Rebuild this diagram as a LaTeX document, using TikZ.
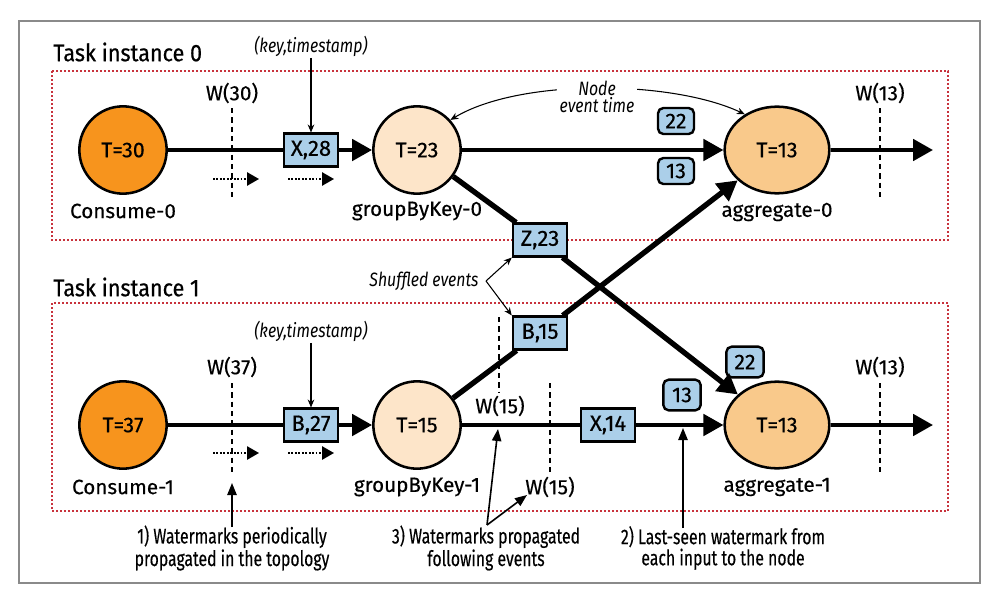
\documentclass[tikz,border=0pt]{standalone}
\usepackage{fontspec}
\setmainfont{Fira Sans}[FakeBold=0.4]
\newfontfamily\condfont{Fira Sans}[FakeStretch=0.74,FakeBold=0.3]
\newfontfamily\titlefont{Fira Sans}[FakeStretch=0.9,FakeBold=0.6]
\newfontfamily\itfont{Fira Sans Italic}[FakeStretch=0.82]
\usetikzlibrary{arrows.meta,shapes.geometric,calc}
\definecolor{orng}{HTML}{F7941D}
\definecolor{peach}{HTML}{FDE5C9}
\definecolor{aggc}{HTML}{F9C98B}
\definecolor{boxb}{HTML}{ABCFE9}
\definecolor{redd}{HTML}{C8323C}
\definecolor{framegray}{HTML}{8A8A8A}
\begin{document}
\begin{tikzpicture}[x=0.75pt,y=-0.75pt,
  consume/.style={circle, draw, line width=1.9pt, fill=orng, minimum size=65.5pt, inner sep=0pt, font=\fontsize{16}{19}\selectfont},
  gbk/.style={consume, fill=peach},
  agg/.style={ellipse, draw, line width=1.9pt, fill=aggc, minimum width=78.5pt, minimum height=65pt, inner sep=0pt, font=\fontsize{16}{19}\selectfont},
  evbox/.style={rectangle, draw, line width=1.8pt, fill=boxb, minimum width=40.5pt, minimum height=24.5pt, inner sep=0pt, font=\fontsize{16.5}{19}\selectfont},
  wmboxa/.style={evbox, rounded corners=4pt, minimum width=27pt, minimum height=19.5pt, font=\fontsize{16}{19}\selectfont},
  wmboxb/.style={evbox, rounded corners=4pt, minimum width=28pt, minimum height=23pt, font=\fontsize{16}{19}\selectfont},
  nodename/.style={font=\fontsize{15.5}{19}\selectfont, inner sep=0pt},
  wlabel/.style={font=\fontsize{15.5}{17}\selectfont, inner sep=0pt},
  itlabel/.style={font=\itfont\fontsize{14.5}{16}\selectfont, inner sep=1pt, align=center},
  title/.style={font=\titlefont\fontsize{18}{22}\selectfont, inner sep=0pt, anchor=west},
  note/.style={font=\condfont\fontsize{16}{14.5}\selectfont, inner sep=0pt, align=center},
  flow/.style={line width=3pt},
  bigarrow/.style={flow, -{Triangle[length=15pt,width=16pt]}},
  diag/.style={line width=4pt},
  diagarrow/.style={diag, -{Triangle[length=15pt,width=16pt]}},
  wmline/.style={line width=0.8pt, dash pattern=on 4pt off 3pt},
  dotarrow/.style={line width=1.3pt, dash pattern=on 1.3pt off 1.3pt, -{Triangle[length=9pt,width=10pt]}},
  thinarrow/.style={line width=0.8pt, -{Stealth[length=6pt,width=5pt]}},
  notearrow/.style={line width=1.2pt, -{Triangle[length=9pt,width=7pt]}},
  region/.style={draw=redd, line width=1pt, dash pattern=on 1.5pt off 1.5pt}
]
\useasboundingbox (0,0) rectangle (992,596);
% frame
\draw[framegray, line width=1.2pt] (19,21) rectangle (980,583);
% regions
\draw[region] (52,71) rectangle (948,240);
\draw[region] (52,303) rectangle (948,511);
\node[title] (t0) at (53,52) {Task instance 0};
\node[title] (t1) at (53,287) {Task instance 1};

% ---- instance 0 nodes
\node[consume] (c0) at (123,150) {T=30};
\node[evbox] (x28) at (311,150) {X,28};
\node[gbk] (g0) at (417,150) {T=23};
\node[agg] (a0) at (777,150) {T=13};
\node[wmboxa] (w22a) at (676,121) {22};
\node[wmboxa] (w13a) at (676,171) {13};
\coordinate (out0) at (933,150);
\node[nodename] (lc0) at (123,211) {Consume-0};
\node[nodename] (lg0) at (417,211) {groupByKey-0};
\node[nodename] (la0) at (777,212) {aggregate-0};
\node[wlabel] (w30) at (232,93) {W(30)};
\node[wlabel] (w13t) at (880,93) {W(13)};
\node[itlabel] (k0) at (311,46) {(key,timestamp)};

% ---- shuffled
\node[evbox] (z23) at (540,240) {Z,23};
\node[evbox] (b15) at (540,333) {B,15};

% ---- instance 1 nodes
\node[consume] (c1) at (123,425) {T=37};
\node[evbox] (b27) at (311,425) {B,27};
\node[gbk] (g1) at (417,425) {T=15};
\node[evbox] (x14) at (608,425) {X,14};
\node[agg] (a1) at (777,425) {T=13};
\node[wmboxb] (w13b) at (682,395) {13};
\node[wmboxb] (w22b) at (745,362) {22};
\coordinate (out1) at (933,425);
\node[nodename] (lc1) at (123,487) {Consume-1};
\node[nodename] (lg1) at (417,487) {groupByKey-1};
\node[nodename] (la1) at (777,487) {aggregate-1};
\node[wlabel] (w37) at (232,367) {W(37)};
\node[wlabel] (w13u) at (880,367) {W(13)};
\node[wlabel] (w15a) at (500,406) {W(15)};
\node[wlabel] (w15b) at (550,487) {W(15)};
\node[itlabel] (k1) at (311,331) {(key,timestamp)};

% ---- watermark lines
\coordinate (w30s) at (232,108); \coordinate (w30e) at (232,198);
\coordinate (w13s) at (880,108); \coordinate (w13e) at (880,198);
\coordinate (w37s) at (232,383); \coordinate (w37e) at (232,473);
\coordinate (w13us) at (880,383); \coordinate (w13ue) at (880,473);
\coordinate (w15as) at (499,317); \coordinate (w15ae) at (499,393);
\coordinate (w15bs) at (550,383); \coordinate (w15be) at (550,475);
\draw[wmline] (w30s) -- (w30e);
\draw[wmline] (w13s) -- (w13e);
\draw[wmline] (w37s) -- (w37e);
\draw[wmline] (w13us) -- (w13ue);
\draw[wmline] (w15as) -- (w15ae);
\draw[wmline] (w15bs) -- (w15be);

% ---- dotted progress arrows
\coordinate (d1s) at (213,179); \coordinate (d1e) at (259,179);
\coordinate (d2s) at (288,179); \coordinate (d2e) at (334,179);
\coordinate (d3s) at (213,453); \coordinate (d3e) at (259,453);
\coordinate (d4s) at (288,453); \coordinate (d4e) at (334,453);
\draw[dotarrow] (d1s) -- (d1e);
\draw[dotarrow] (d2s) -- (d2e);
\draw[dotarrow] (d3s) -- (d3e);
\draw[dotarrow] (d4s) -- (d4e);

% ---- flows
\draw[flow] (c0) -- (x28);
\draw[bigarrow] (x28) -- (g0);
\draw[bigarrow] (g0) -- (a0);
\draw[bigarrow] (a0) -- (out0);
\draw[flow] (c1) -- (b27);
\draw[bigarrow] (b27) -- (g1);
\draw[flow] (g1) -- (x14);
\draw[bigarrow] (x14) -- (a1);
\draw[bigarrow] (a1) -- (out1);
\draw[diag] (g0) -- (z23);
\draw[diagarrow] (z23) -- (a1);
\draw[diag] (g1) -- (b15);
\draw[diagarrow] (b15) -- (a0);

% ---- key arrows
\draw[thinarrow] (k0) -- (x28);
\draw[thinarrow] (k1) -- (b27);

% ---- node event time
\draw[line width=0.8pt, {Stealth[length=6pt,width=5pt]}-{Stealth[length=6pt,width=5pt]}] (g0.42) .. controls (520,78) and (672,80) .. (a0.132);
\node[itlabel, fill=white, inner sep=2pt] (net) at (597,97) {Node\\[-3pt]event time};

% ---- shuffled events
\node[itlabel] (sh) at (424,281) {Shuffled events};
\coordinate (shp) at (486,281);
\draw[thinarrow] (shp) -- (z23.south west);
\draw[thinarrow] (shp) -- (b15.north west);

% ---- notes
\node[note] (n1) at (232,548) {1) Watermarks periodically\\propagated in the topology};
\node[note] (n3) at (486,548) {3) Watermarks propagated\\following events};
\node[note] (n2) at (723,548) {2) Last-seen watermark from\\each input to the node};
\coordinate (n1s) at (232,527); \coordinate (n1t) at (232,483);
\coordinate (n3s) at (487,525); \coordinate (n3t1) at (498,429); \coordinate (n3t2) at (527,495);
\coordinate (n2s) at (683,528); \coordinate (n2t) at (683,428);
\draw[notearrow] (n1s) -- (n1t);
\draw[notearrow] (n3s) -- (n3t1);
\draw[notearrow] (n3s) -- (n3t2);
\draw[notearrow] (n2s) -- (n2t);
\end{tikzpicture}
\end{document}
